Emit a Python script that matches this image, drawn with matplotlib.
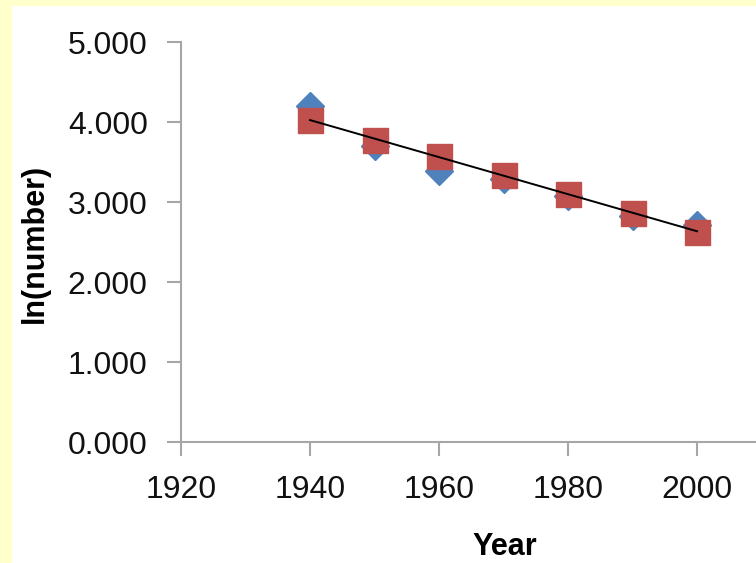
import matplotlib
matplotlib.use('Agg')
import matplotlib.pyplot as plt
import numpy as np
from matplotlib.patches import Rectangle
from matplotlib.ticker import FormatStrFormatter

# ln(number) against year: observed values, fitted values and trend line

years = [1940, 1950, 1960, 1970, 1980, 1990, 2000]
ln_observed = [4.20, 3.70, 3.39, 3.29, 3.08, 2.82, 2.71]
ln_fitted = [4.02, 3.78, 3.575, 3.34, 3.10, 2.86, 2.63]
x_ticks = [1920, 1940, 1960, 1980, 2000]
y_ticks = [0, 1, 2, 3, 4, 5]

BLUE = '#4F81BD'
RED = '#C0504D'
GRID = '#a6a6a6'

plt.rcParams['font.family'] = ['Liberation Sans', 'DejaVu Sans']

W, H = 756, 563
fig = plt.figure(figsize=(W / 100, H / 100), dpi=100)
fig.patch.set_facecolor('#FFFFCC')
fig.patches.append(Rectangle((12 / W, 0), 1, 1 - 6 / H, transform=fig.transFigure,
                             facecolor='white', edgecolor='none', zorder=-1))

# the plot area runs past the right edge of the picture (to 2020)
ax = fig.add_axes([181 / W, (H - 442) / H, 645 / W, 400 / H])
ax.set_facecolor('white')
ax.set_zorder(1)

ax.plot(years, ln_observed, linestyle='none', marker='D', markersize=14.5,
        color=BLUE, zorder=3)
ax.plot(years, ln_fitted, linestyle='none', marker='s', markersize=18,
        color=RED, zorder=4)

slope, intercept = np.polyfit(years, ln_fitted, 1)
ends = np.array([years[0], years[-1]])
ax.plot(ends, slope * ends + intercept, color='black', linewidth=1.4, zorder=5)

ax.set_xlim(1920, 2020)
ax.set_ylim(0, 5)
ax.set_xticks(x_ticks)
ax.set_yticks(y_ticks)
ax.yaxis.set_major_formatter(FormatStrFormatter('%.3f'))

for side in ['top', 'right']:
    ax.spines[side].set_visible(False)
for side in ['left', 'bottom']:
    ax.spines[side].set_color(GRID)
    ax.spines[side].set_linewidth(1.5)

ax.tick_params(axis='both', direction='out', length=10, width=1.5, color=GRID,
               labelsize=23, labelcolor='#111111')
ax.tick_params(axis='x', pad=14)
ax.tick_params(axis='y', pad=14)

fig.text(35 / W, 1 - 243 / H, 'ln(number)', rotation=90, ha='center', va='center',
         fontsize=22, fontweight='bold')
fig.text(505 / W, 1 - 547 / H, 'Year', ha='center', va='center',
         fontsize=22, fontweight='bold')

fig.savefig('out.png', dpi=100)
